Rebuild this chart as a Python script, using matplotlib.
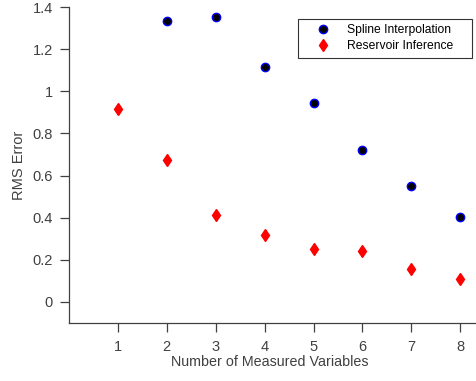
import matplotlib
matplotlib.use("Agg")
import matplotlib.pyplot as plt

plt.rcParams["font.family"] = ["Liberation Sans", "DejaVu Sans"]

n_vars = [1, 2, 3, 4, 5, 6, 7, 8]
spline_x = [2, 3, 4, 5, 6, 7, 8]
spline_rms = [1.335, 1.354, 1.117, 0.946, 0.722, 0.548, 0.405]
reservoir_rms = [0.915, 0.672, 0.412, 0.316, 0.251, 0.244, 0.154, 0.109]
y_ticks = [0, 0.2, 0.4, 0.6, 0.8, 1.0, 1.2, 1.4]
y_labels = ["0", "0.2", "0.4", "0.6", "0.8", "1", "1.2", "1.4"]

axis_color = "#404040"
x_max = 8.6

fig = plt.figure(figsize=(4.77, 3.81), dpi=100)
unit = 48.9 / 477
ax = fig.add_axes([69 / 477, 58 / 381, x_max * unit, 316 / 381])

ax.plot(spline_x, spline_rms, linestyle="none", marker="o", markersize=6,
        markerfacecolor="black", markeredgecolor="blue", markeredgewidth=1.0,
        label="Spline Interpolation")
ax.plot(n_vars, reservoir_rms, linestyle="none", marker="d", markersize=6.5,
        color="red", label="Reservoir Inference")

ax.set_xlim(0, x_max)
ax.set_ylim(-0.1, 1.4)
ax.set_xticks(n_vars)
ax.set_yticks(y_ticks)
ax.set_yticklabels(y_labels)

for side in ["top", "right"]:
    ax.spines[side].set_visible(False)
for side in ["left", "bottom"]:
    ax.spines[side].set_color(axis_color)
    ax.spines[side].set_linewidth(0.9)
ax.tick_params(direction="out", length=6.5, width=0.9, colors=axis_color,
               labelsize=10.5)
ax.tick_params(axis="x", pad=5.5)
ax.tick_params(axis="y", pad=5)

ax.set_xlabel("Number of Measured Variables", fontsize=10.3, color=axis_color, labelpad=0)
ax.xaxis.set_label_coords(4.1 / x_max, -0.1)
ax.set_ylabel("RMS Error", fontsize=10.5, color=axis_color, labelpad=5)

leg = ax.legend(loc="upper left",
                bbox_to_anchor=(298 / 477, 1 - 19 / 381, 174 / 477, 0),
                bbox_transform=fig.transFigure, mode="expand",
                fontsize=8.7, frameon=True, fancybox=False, borderpad=0.45,
                labelspacing=0.3, handletextpad=0.4, handlelength=3.2,
                borderaxespad=0)
leg.get_frame().set_edgecolor("black")
leg.get_frame().set_linewidth(0.8)

fig.savefig("out.png", dpi=100)
